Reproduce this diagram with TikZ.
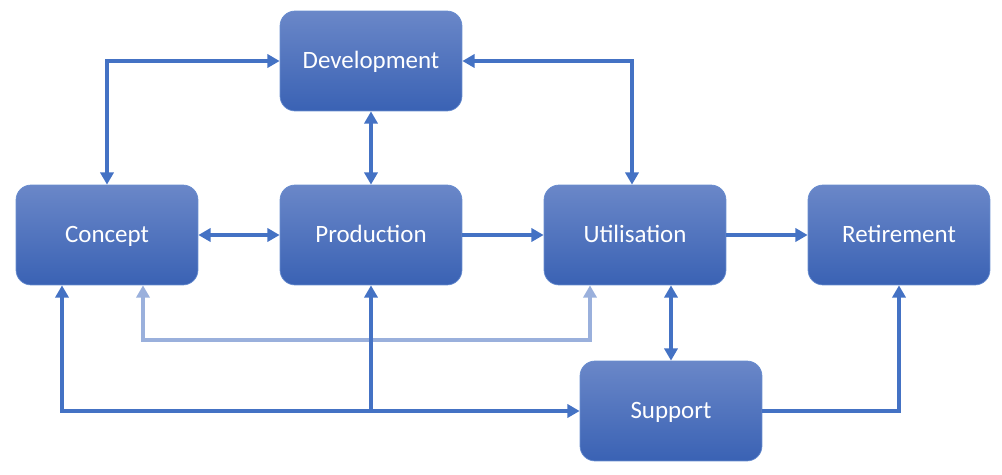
\documentclass[tikz,border=0pt]{standalone}
\usepackage{fontspec}
\setmainfont{Carlito}
\usepackage{tikz}
\usetikzlibrary{arrows.meta,calc,positioning}

\definecolor{boxtop}{HTML}{6A87C8}
\definecolor{boxbot}{HTML}{3A62B4}
\definecolor{linkblue}{HTML}{4472C4}
\definecolor{linklight}{HTML}{9AB0DC}

\tikzset{
  stage/.style={rounded corners=0.3cm, top color=boxtop, bottom color=boxbot,
    draw=linkblue!80, line width=0.4pt, minimum width=3.64cm, minimum height=2cm,
    text=white, font=\fontsize{14.2}{17}\selectfont, text height=1.8ex, text depth=0pt},
  link/.style={draw=linkblue, line width=2pt, -{Triangle[length=7pt,width=7.5pt]}},
  twolink/.style={link, {Triangle[length=7pt,width=7.5pt]}-{Triangle[length=7pt,width=7.5pt]}},
  lightlink/.style={twolink, draw=linklight},
}

\begin{document}
\begin{tikzpicture}[x=0.02cm,y=-0.02cm]
  \useasboundingbox (0,0) rectangle (1002,474);
  \node[stage] (Dev) at (371,61) {Development};
  \node[stage] (Con) at (107,235) {Concept};
  \node[stage] (Pro) at (371,235) {Production};
  \node[stage] (Uti) at (635,235) {Utilisation};
  \node[stage] (Ret) at (899,235) {Retirement};
  \node[stage] (Sup) at (671,411) {Support};
  \coordinate (low) at (0,410);
  \coordinate (mid) at (0,340);
  \coordinate (conL) at ($(Con.south)+(36,0)$);
  \coordinate (utiL) at ($(Uti.south)+(-45,0)$);

  \draw[twolink] (Con.north) |- (Dev.west);
  \draw[twolink] (Dev.east) -| ($(Uti.north)+(-3,0)$);
  \draw[twolink] (Dev.south) -- (Pro.north);
  \draw[twolink] (Con.east) -- (Pro.west);
  \draw[link] (Pro.east) -- (Uti.west);
  \draw[link] (Uti.east) -- (Ret.west);
  \draw[twolink] (Uti.south -| Sup.north) -- (Sup.north);
  \draw[link] (Sup.east) -| (Ret.south);
  \draw[lightlink] (conL) -- (conL |- mid) -| (utiL);
  \draw[twolink] ($(Con.south)+(-45,0)$) |- (Sup.west);
  \draw[link] (low -| Pro.south) -- (Pro.south);
\end{tikzpicture}
\end{document}
